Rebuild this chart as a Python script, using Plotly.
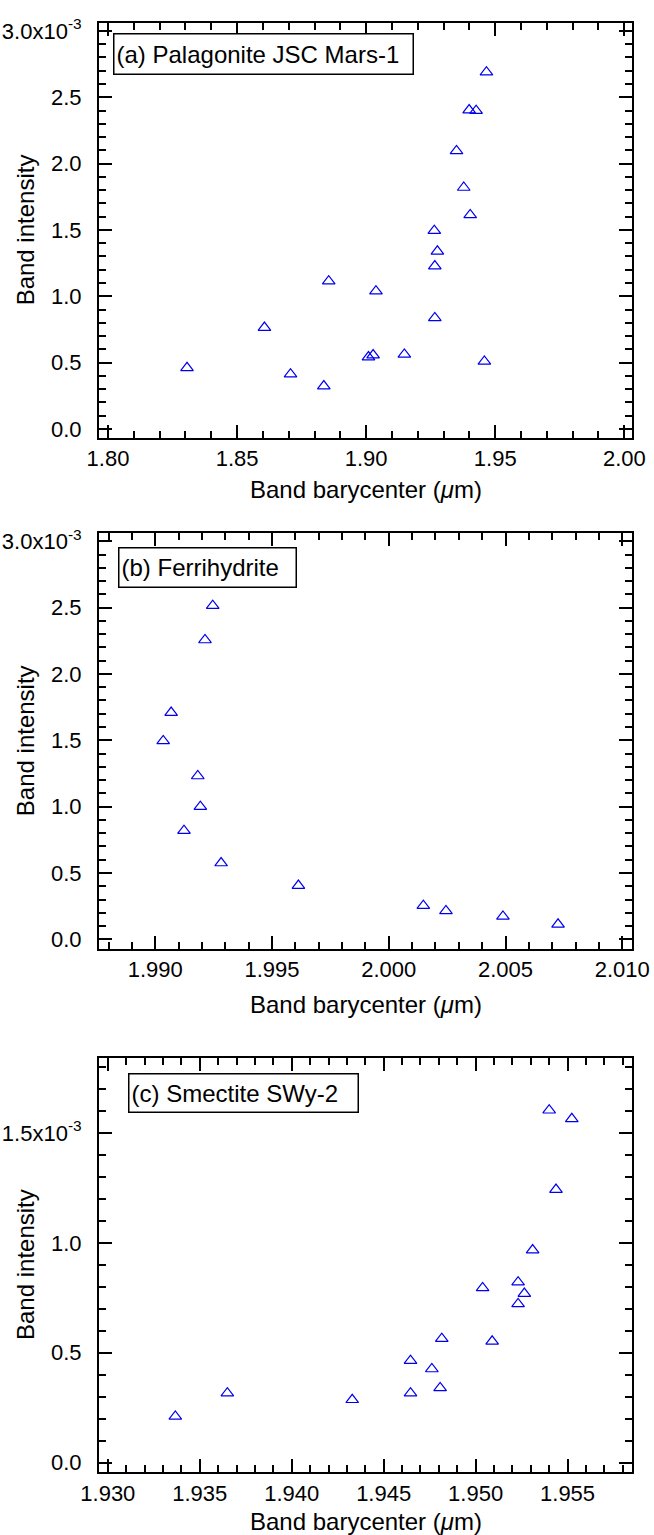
import plotly.graph_objects as go

# ---------------- data (band intensity in units of 1e-3) ----------------
x_a = [1.8306, 1.8606, 1.8707, 1.8836, 1.8855, 1.9009, 1.9027, 1.9038, 1.9148,
       1.9264, 1.9276, 1.9266, 1.9266, 1.9378, 1.9403, 1.9458, 1.9350, 1.9399,
       1.9426, 1.9466]
y_a = [0.461, 0.764, 0.413, 0.323, 1.114, 0.542, 0.557, 1.039, 0.562,
       1.495, 1.339, 1.228, 0.837, 1.820, 1.613, 0.509, 2.096, 2.404,
       2.399, 2.689]

x_b = [1.99034, 1.99068, 1.99123, 1.99182, 1.99193, 1.99213, 1.99246, 1.99282,
       1.99613, 2.00148, 2.00245, 2.00489, 2.00725]
y_b = [1.495, 1.709, 0.819, 1.231, 1.000, 2.256, 2.515, 0.575,
       0.405, 0.254, 0.214, 0.173, 0.113]

x_c = [1.93367, 1.93650, 1.94329, 1.94646, 1.94646, 1.94762, 1.94807, 1.94816,
       1.95038, 1.95090, 1.95231, 1.95265, 1.95231, 1.95310, 1.95437, 1.95400,
       1.95523]
y_c = [0.210, 0.316, 0.286, 0.316, 0.464, 0.426, 0.340, 0.564,
       0.795, 0.552, 0.821, 0.769, 0.722, 0.967, 1.242, 1.603, 1.564]

labels = ["(a) Palagonite JSC Mars-1", "(b) Ferrihydrite", "(c) Smectite SWy-2"]

yticks_ab = [0.0, 0.5, 1.0, 1.5, 2.0, 2.5, 3.0]
yticktext_ab = ["0.0", "0.5", "1.0", "1.5", "2.0", "2.5", "3.0x10<sup>-3</sup>"]
yticks_c = [0.0, 0.5, 1.0, 1.5]
yticktext_c = ["0.0", "0.5", "1.0", "1.5x10<sup>-3</sup>"]

xticks_a = [1.80, 1.85, 1.90, 1.95, 2.00]
xticktext_a = ["1.80", "1.85", "1.90", "1.95", "2.00"]
xticks_b = [1.990, 1.995, 2.000, 2.005, 2.010]
xticktext_b = ["1.990", "1.995", "2.000", "2.005", "2.010"]
xticks_c = [1.930, 1.935, 1.940, 1.945, 1.950, 1.955]
xticktext_c = ["1.930", "1.935", "1.940", "1.945", "1.950", "1.955"]

# ---------------- layout geometry ----------------
W, H = 654, 1535
FONT = "Liberation Sans, Arial, sans-serif"
BLUE = "#0000ee"
TFS = 22   # tick label font size
LFS = 24   # title / label font size


def py(p):
    return 1 - p / H


XL, XR = 99, 632.3
x_dom = [XL / W, XR / W]
y_doms = [[py(437.7), py(23)], [py(949), py(533.3)], [py(1472.3), py(1057.7)]]

fig = go.Figure()
for i, (xs, ys) in enumerate([(x_a, y_a), (x_b, y_b), (x_c, y_c)]):
    sfx = "" if i == 0 else str(i + 1)
    fig.add_trace(go.Scatter(
        x=xs, y=ys, mode="markers", xaxis="x" + sfx, yaxis="y" + sfx,
        marker=dict(symbol="triangle-up-open", size=11, color=BLUE,
                    line=dict(width=1.2, color=BLUE)),
        showlegend=False, hoverinfo="x+y"))

common = dict(showline=True, linewidth=2, linecolor="black", mirror="allticks",
              ticks="inside", ticklen=13, tickwidth=1.5, tickcolor="black",
              showgrid=False, zeroline=False, automargin=False,
              tickfont=dict(family=FONT, size=TFS, color="black"))

xcfg = [
    dict(range=[1.79651, 2.0031], tickvals=xticks_a, ticktext=xticktext_a, minor_dtick=0.01),
    dict(range=[1.98759, 2.01043], tickvals=xticks_b, ticktext=xticktext_b, minor_dtick=0.001),
    dict(range=[1.92952, 1.95852], tickvals=xticks_c, ticktext=xticktext_c, minor_dtick=0.001),
]
ycfg = [
    dict(range=[-0.066, 3.06], tickvals=yticks_ab, ticktext=yticktext_ab),
    dict(range=[-0.073, 3.06], tickvals=yticks_ab, ticktext=yticktext_ab),
    dict(range=[-0.044, 1.842], tickvals=yticks_c, ticktext=yticktext_c),
]

layout = dict(width=W, height=H, margin=dict(l=0, r=0, t=0, b=0),
              paper_bgcolor="white", plot_bgcolor="white",
              font=dict(family=FONT, size=TFS, color="black"))
for i in range(3):
    sfx = "" if i == 0 else str(i + 1)
    xc = xcfg[i]
    layout["xaxis" + sfx] = dict(
        common, domain=x_dom, anchor="y" + sfx, range=xc["range"],
        tickmode="array", tickvals=xc["tickvals"], ticktext=xc["ticktext"],
        ticklabelstandoff=0,
        minor=dict(dtick=xc["minor_dtick"], tick0=1.8, ticks="inside", ticklen=7,
                   tickwidth=1.5, tickcolor="black", showgrid=False))
    yc = ycfg[i]
    layout["yaxis" + sfx] = dict(
        common, domain=y_doms[i], anchor="x" + sfx, range=yc["range"],
        tickmode="array", tickvals=yc["tickvals"], ticktext=yc["ticktext"],
        ticklabelstandoff=11,
        minor=dict(dtick=0.1, tick0=0, ticks="inside", ticklen=7,
                   tickwidth=1.5, tickcolor="black", showgrid=False))

fig.update_layout(**layout)

# label boxes: (left px, top px, width, height)
boxes = [(112.5, 33, 301, 42), (117.5, 547, 179, 41), (127.5, 1072.7, 231, 40)]
annots = []
for lab, (bx, by, bw, bh) in zip(labels, boxes):
    annots.append(dict(text=lab, xref="paper", yref="paper", x=bx / W, y=py(by),
                       xanchor="left", yanchor="top", showarrow=False,
                       width=bw - 7, height=bh - 7, borderpad=2, align="left",
                       bordercolor="black", borderwidth=1.5, bgcolor="white",
                       font=dict(family=FONT, size=LFS, color="black")))

# axis titles
xt_y = [490, 1005, 1521]
for i in range(3):
    annots.append(dict(text="Band barycenter (<i>μ</i>m)", xref="paper", yref="paper",
                       x=(XL + XR) / 2 / W, y=py(xt_y[i]), xanchor="center",
                       yanchor="middle", showarrow=False,
                       font=dict(family=FONT, size=LFS, color="black")))
    annots.append(dict(text="Band intensity", xref="paper", yref="paper",
                       x=25 / W, y=sum(y_doms[i]) / 2, xanchor="center",
                       yanchor="middle", textangle=-90, showarrow=False,
                       font=dict(family=FONT, size=LFS, color="black")))
fig.update_layout(annotations=annots)

fig.write_html("out.html")
